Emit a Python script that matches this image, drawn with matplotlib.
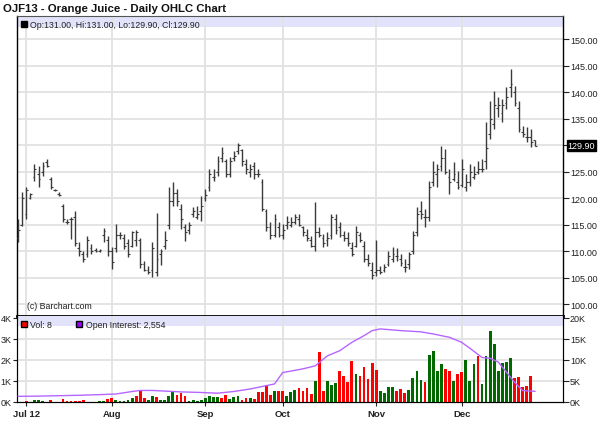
import matplotlib
matplotlib.use('Agg')
import matplotlib.pyplot as plt
import matplotlib.transforms as mtransforms
import numpy as np

plt.rcParams['font.family'] = ['Liberation Sans', 'DejaVu Sans']

# OJF13 daily OHLC (one entry per trading day)
highs = [116.0, 121.1, 122.0, 121.0, 126.4, 126.0, 126.8, 127.4, 124.0, 121.7,
         121.1, 118.9, 116.0, 116.4, 117.5, 111.7, 110.0, 112.8, 111.3, 110.6,
         110.4, 114.3, 112.8, 110.8, 115.1, 113.6, 113.2, 112.3, 113.8, 114.0,
         112.5, 108.1, 107.2, 111.7, 117.2, 110.4, 113.8, 122.1, 123.0, 121.7,
         118.9, 115.1, 115.5, 118.3, 118.5, 120.4, 121.7, 125.5, 125.5, 128.0,
         129.6, 127.4, 127.7, 128.9, 130.4, 129.2, 127.4, 126.4, 126.8, 125.5,
         123.6, 117.9, 115.5, 117.0, 115.5, 115.1, 116.6, 116.4, 117.0, 117.0,
         114.7, 114.2, 112.8, 119.2, 114.5, 113.2, 113.6, 117.0, 117.0, 115.5,
         113.8, 113.6, 111.7, 114.7, 113.6, 111.9, 109.4, 107.9, 112.1, 107.2,
         107.5, 110.0, 110.8, 110.6, 109.4, 108.5, 109.8, 113.8, 118.3, 119.4,
         117.9, 123.2, 127.0, 126.4, 129.8, 129.2, 125.5, 126.8, 125.1, 127.4,
         124.5, 126.4, 126.0, 127.0, 127.4, 134.3, 138.3, 140.2, 139.0, 138.7,
         140.9, 144.3, 141.1, 138.3, 133.6, 133.4, 133.0, 131.0]
lows = [111.7, 114.7, 116.0, 119.8, 123.2, 122.0, 124.2, 125.8, 121.7, 121.3,
        120.4, 115.5, 115.1, 112.3, 110.9, 109.0, 107.9, 108.9, 109.4, 109.8,
        109.8, 111.7, 109.0, 106.6, 109.8, 112.3, 110.4, 108.9, 110.8, 110.9,
        106.8, 106.2, 105.7, 105.1, 105.3, 107.4, 110.4, 114.2, 118.5, 118.5,
        114.2, 111.9, 113.2, 116.4, 116.0, 115.7, 119.4, 121.3, 123.2, 124.2,
        126.8, 124.0, 124.0, 127.0, 128.3, 126.0, 124.5, 124.0, 123.6, 124.0,
        117.5, 113.8, 112.3, 112.6, 112.6, 112.3, 114.2, 114.5, 115.1, 114.7,
        112.8, 111.9, 110.8, 110.0, 112.6, 110.8, 111.0, 112.3, 113.2, 112.6,
        111.9, 111.0, 109.0, 110.8, 111.7, 107.9, 107.2, 104.7, 105.3, 105.7,
        106.0, 107.2, 107.9, 108.1, 107.2, 106.0, 106.6, 109.4, 112.8, 116.0,
        114.5, 115.7, 122.3, 122.1, 125.1, 124.5, 120.8, 123.2, 121.7, 122.1,
        121.3, 122.3, 123.6, 124.5, 124.9, 125.5, 131.1, 133.0, 135.3, 134.3,
        136.8, 139.0, 137.4, 132.5, 131.5, 130.6, 129.6, 129.9]
opens = [112.5, 115.0, 117.0, 120.0, 124.0, 124.5, 125.0, 126.8, 123.5, 121.6,
         120.8, 118.5, 115.5, 116.0, 116.5, 110.5, 109.5, 109.5, 110.5, 110.2,
         110.0, 113.0, 112.0, 110.0, 110.5, 113.0, 112.5, 111.5, 111.0, 112.0,
         112.0, 107.5, 106.5, 106.5, 106.0, 109.5, 111.0, 115.0, 119.5, 121.0,
         118.0, 114.5, 114.0, 117.0, 116.5, 117.5, 120.0, 122.0, 124.0, 125.0,
         127.5, 127.0, 124.5, 127.5, 128.8, 129.0, 126.5, 125.0, 126.0, 124.5,
         123.0, 117.5, 114.5, 113.0, 114.5, 113.0, 115.0, 115.0, 115.5, 116.0,
         114.5, 113.0, 112.0, 111.0, 113.5, 112.5, 112.0, 113.0, 116.0, 114.5,
         113.0, 112.5, 110.5, 111.0, 113.0, 111.0, 108.5, 106.5, 106.0, 106.5,
         106.5, 107.5, 108.5, 109.0, 108.5, 107.0, 107.5, 110.0, 113.5, 117.5,
         116.5, 116.5, 123.0, 124.5, 126.0, 127.5, 124.0, 123.5, 123.0, 122.5,
         122.0, 123.0, 124.0, 125.0, 125.5, 127.0, 132.0, 134.0, 137.0, 136.0,
         138.0, 141.0, 140.0, 137.0, 132.5, 131.5, 131.5, 131.0]
closes = [114.0, 120.0, 121.5, 120.8, 125.5, 123.5, 126.0, 126.0, 122.0, 121.5,
          120.6, 116.0, 115.5, 116.0, 111.5, 110.0, 108.5, 112.0, 110.0, 110.0,
          110.2, 113.8, 110.0, 108.0, 113.0, 113.0, 111.0, 109.5, 113.5, 113.5,
          107.5, 106.5, 106.0, 110.5, 108.5, 110.0, 112.0, 119.5, 121.0, 119.5,
          116.0, 113.5, 115.0, 117.5, 117.0, 118.5, 120.5, 124.5, 124.0, 127.0,
          128.5, 124.5, 127.0, 128.0, 130.0, 127.0, 125.5, 125.5, 124.5, 124.5,
          118.0, 114.5, 113.0, 116.0, 113.0, 114.0, 115.5, 115.5, 116.5, 115.0,
          113.5, 112.5, 111.0, 113.5, 113.0, 111.5, 112.5, 116.5, 114.0, 113.0,
          112.5, 111.5, 109.5, 113.5, 112.0, 108.5, 107.8, 105.5, 106.5, 106.0,
          107.0, 109.0, 109.5, 109.0, 107.8, 107.0, 109.5, 113.0, 117.0, 117.0,
          116.5, 122.0, 125.0, 125.5, 127.5, 125.0, 123.0, 124.5, 122.0, 125.5,
          123.0, 125.0, 124.5, 125.5, 125.5, 129.5, 135.0, 137.5, 137.5, 137.5,
          139.0, 141.5, 138.0, 133.0, 132.0, 131.5, 130.5, 129.9]

# volume in thousands
volume = [0, 0, 0.06, 0, 0.08, 0.08, 0.05, 0, 0.10, 0,
          0, 0.14, 0.06, 0.06, 0.06, 0.06, 0.10, 0, 0, 0,
          0.05, 0.06, 0.16, 0.19, 0.08, 0.05, 0.06, 0.11, 0.19, 0.27,
          0.59, 0.19, 0.11, 0.27, 0.22, 0.08, 0.10, 0.27, 0.51, 0.32,
          0.43, 0.30, 0.06, 0.11, 0.06, 0.11, 0.19, 0.27, 0.25, 0.25,
          0.19, 0.32, 0.14, 0.25, 0.29, 0.08, 0.19, 0.19, 0.14, 0.46,
          0.46, 0.79, 0.32, 0.54, 0.54, 0.54, 0.29, 0.46, 0.56, 0.67,
          0.54, 0.67, 0.38, 1.02, 2.38, 0.54, 1.02, 0.83, 0.90, 1.49,
          1.22, 0.95, 1.94, 1.33, 1.22, 1.65, 1.11, 1.86, 1.54, 0.54,
          0.43, 0.70, 0.70, 0.51, 0.62, 0.43, 0.59, 1.14, 1.49, 1.06,
          0.95, 2.22, 2.41, 1.46, 1.81, 1.57, 1.46, 1.02, 1.33, 1.41,
          2.02, 1.02, 1.81, 2.17, 0.86, 2.17, 3.37, 2.76, 1.46, 1.86,
          1.90, 2.10, 1.14, 1.19, 0.70, 0.75, 1.22, 0.008]
# per-bar colour flag: 'u' = up day (green), 'd' = down day (red)
vol_dir = ['d', 'd', 'd', 'd', 'u', 'u', 'u', 'd', 'd', 'd',
           'd', 'd', 'd', 'd', 'd', 'd', 'd', 'd', 'd', 'd',
           'u', 'u', 'd', 'd', 'u', 'u', 'u', 'u', 'u', 'd',
           'd', 'd', 'u', 'u', 'd', 'u', 'u', 'u', 'u', 'd',
           'd', 'd', 'u', 'u', 'u', 'u', 'u', 'u', 'u', 'u',
           'd', 'd', 'u', 'u', 'u', 'd', 'd', 'u', 'd', 'd',
           'd', 'd', 'd', 'u', 'd', 'd', 'u', 'u', 'u', 'd',
           'd', 'd', 'd', 'u', 'd', 'd', 'u', 'u', 'u', 'd',
           'd', 'd', 'd', 'u', 'd', 'd', 'd', 'd', 'd', 'u',
           'u', 'u', 'u', 'd', 'd', 'd', 'u', 'u', 'u', 'u',
           'd', 'u', 'u', 'u', 'u', 'd', 'd', 'u', 'd', 'd',
           'u', 'u', 'u', 'd', 'u', 'u', 'u', 'u', 'u', 'u',
           'u', 'u', 'd', 'd', 'd', 'd', 'd', 'd']

# open interest (thousands) at selected bars
oi_idx = [0, 5, 10, 15, 20, 24, 26, 28, 30, 33, 36, 40, 44, 49, 53, 57, 62, 63,
          65, 70, 73, 75, 76, 79, 82, 85, 87, 89, 94, 99, 102, 106, 109, 111,
          114, 116, 118, 120, 122, 124, 127]
oi_val = [1.35, 1.4, 1.5, 1.6, 1.75, 1.9, 2.2, 2.5, 2.75, 2.75, 2.6, 2.4, 2.3,
          2.1, 2.5, 3.1, 4.1, 4.3, 7.0, 7.9, 8.6, 10.2, 11.0, 12.2, 14.2, 15.8,
          17.0, 17.4, 17.0, 16.7, 16.2, 15.4, 14.2, 12.8, 10.6, 10.4, 9.5, 7.1,
          4.7, 2.7, 2.55]

month_pos = [2, 23, 46, 65, 88, 109]
month_lab = ['Jul 12', 'Aug', 'Sep', 'Oct', 'Nov', 'Dec']
price_ticks = [100, 105, 110, 115, 120, 125, 130, 135, 140, 145, 150]
last_price = 129.90

idx = np.arange(len(highs))
grid_c = '#e2e2e2'
band_c = '#e2e2fa'
bar_c = '#3a3a3a'
txt_c = '#222222'

fig = plt.figure(figsize=(6, 4.39), dpi=100)
ax = fig.add_axes([17 / 600, 122 / 439, 546 / 600, 300 / 439])
axv = fig.add_axes([17 / 600, 36 / 439, 546 / 600, 86 / 439], sharex=ax)

# ---- price panel ----
ax.set_xlim(-0.3, 133.9)
ax.set_ylim(97.74, 154.34)
ax.axhspan(152.26, 154.34, color=band_c, zorder=0, lw=0)
for p in price_ticks:
    ax.axhline(p, color=grid_c, lw=1.3, zorder=1)
for m in month_pos:
    ax.axvline(m, color=grid_c, lw=1.3, zorder=1)
ax.vlines(idx, lows, highs, color=bar_c, lw=1.0, zorder=3)
ax.hlines(opens, idx - 0.45, idx, color=bar_c, lw=0.8, zorder=3)
ax.hlines(closes, idx, idx + 0.45, color=bar_c, lw=0.8, zorder=3)

ax.yaxis.tick_right()
ax.set_yticks(price_ticks)
ax.set_yticklabels(['' if p == 130 else '%.2f' % p for p in price_ticks])
ax.tick_params(axis='y', direction='out', length=4, labelsize=6.5, colors=txt_c, pad=1)
ax.tick_params(axis='x', length=0, labelbottom=False)
for s in ['left', 'right']:
    ax.spines[s].set_color('black')
    ax.spines[s].set_linewidth(1)
ax.spines['top'].set_color('#555555')
ax.spines['bottom'].set_color('black')
ax.spines['bottom'].set_linewidth(2)

trans = mtransforms.blended_transform_factory(ax.transAxes, ax.transData)
ax.text(1.0085, last_price, '%.2f' % last_price, transform=trans, fontsize=6.5,
        color='white', va='center', ha='left',
        bbox=dict(boxstyle='square,pad=0.1', fc='black', ec='black'))

ax.plot([0.012], [0.972], marker='s', ms=4.5, mfc='black', mec='black',
        transform=ax.transAxes, clip_on=False)
ax.text(0.024, 0.972, 'Op:131.00, Hi:131.00, Lo:129.90, Cl:129.90',
        transform=ax.transAxes, fontsize=6.3, va='center', color=txt_c)
ax.text(0.019, 0.035, '(c) Barchart.com', transform=ax.transAxes,
        fontsize=6.3, va='center', color=txt_c)

fig.text(3 / 600, 1 - 9 / 439, 'OJF13 - Orange Juice - Daily OHLC Chart',
         fontsize=8.2, fontweight='bold', va='center', ha='left', color='#111111')

# ---- volume panel ----
vmax = 4.095
axv.set_ylim(0, vmax)
axv.axhspan(3.62, vmax, color=band_c, zorder=0, lw=0)
for v in [1, 2, 3]:
    axv.axhline(v, color=grid_c, lw=1.3, zorder=1)
for m in month_pos:
    axv.axvline(m, color=grid_c, lw=1.3, zorder=1)
cols = ['#ff0000' if d == 'd' else '#006a00' for d in vol_dir]
axv.bar(idx, volume, width=0.68, color=cols, zorder=3, lw=0)
axv.set_yticks([0, 1, 2, 3, 4])
axv.set_yticklabels(['0K', '1K', '2K', '3K', '4K'])
axv.tick_params(axis='y', direction='out', length=3, labelsize=6.5, colors=txt_c, pad=1)
axv.set_xticks(month_pos)
axv.set_xticklabels(month_lab, fontweight='bold')
axv.tick_params(axis='x', direction='out', length=3, labelsize=6.8, colors=txt_c, pad=2)
for s in ['left', 'right', 'bottom']:
    axv.spines[s].set_color('black')
axv.spines['top'].set_visible(False)

axo = axv.twinx()
axo.set_ylim(0, 20 * vmax / 4)
axo.plot(oi_idx, oi_val, color='#b566ff', lw=1.0, zorder=4)
axo.set_yticks([0, 5, 10, 15, 20])
axo.set_yticklabels(['0K', '5K', '10K', '15K', '20K'])
axo.tick_params(axis='y', direction='out', length=4, labelsize=6.5, colors=txt_c, pad=1)
axo.spines['top'].set_visible(False)
axo.spines['right'].set_color('black')

axv.plot([0.012], [0.905], marker='s', ms=4.5, mfc='#ff0000', mec='black',
         transform=axv.transAxes, clip_on=False)
axv.text(0.024, 0.905, 'Vol: 8', transform=axv.transAxes, fontsize=6.3,
         va='center', color=txt_c, zorder=5)
axv.plot([0.114], [0.905], marker='s', ms=4.5, mfc='#9900ff', mec='black',
         transform=axv.transAxes, clip_on=False)
axv.text(0.126, 0.905, 'Open Interest: 2,554', transform=axv.transAxes,
         fontsize=6.3, va='center', color=txt_c, zorder=5)

fig.savefig('out.png', dpi=100)
